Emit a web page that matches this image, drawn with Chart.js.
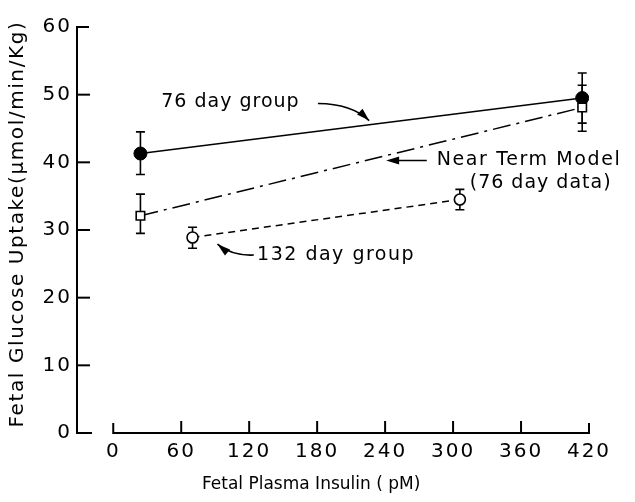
<!DOCTYPE html>
<html><head><meta charset="utf-8">
<script src="https://cdn.jsdelivr.net/npm/chart.js@4.4.0/dist/chart.umd.min.js"></script>
<style>html,body{margin:0;padding:0;background:#fff}#wrap{width:635px;height:502px;position:relative}</style>
</head><body><div id="wrap"><canvas id="c" width="635" height="502"></canvas></div>
<script>
const xTickValues = [0, 60, 120, 180, 240, 300, 360, 420];
const yTickValues = [0, 10, 20, 30, 40, 50, 60];
const insulin76 = [24, 414];
const uptake76 = [41.3, 49.5];
const uptake76Hi = [44.5, 53.2];
const uptake76Lo = [38.2, 45.8];
const insulinModel = [24, 414];
const uptakeModel = [32.1, 48.1];
const uptakeModelHi = [35.3, 51.4];
const uptakeModelLo = [29.5, 44.6];
const insulin132 = [70, 306];
const uptake132 = [28.9, 34.5];
const uptake132Hi = [30.4, 36.0];
const uptake132Lo = [27.3, 33.0];
const xTitle = 'Fetal Plasma Insulin ( pM)';
const yTitle = 'Fetal Glucose Uptake(\u03bcmol/min/Kg)';
const labels = ['76 day group', 'Near Term Model', '(76 day data)', '132 day group'];

const FONT = '"DejaVu Sans", sans-serif';
const pts = (xs, ys) => xs.map((x, i) => ({x: x, y: ys[i]}));

const errorSets = [
  {x: insulin76, hi: uptake76Hi, lo: uptake76Lo},
  {x: insulinModel, hi: uptakeModelHi, lo: uptakeModelLo},
  {x: insulin132, hi: uptake132Hi, lo: uptake132Lo}
];

function arrowHead(ctx, fromX, fromY, toX, toY, len, wid) {
  const a = Math.atan2(toY - fromY, toX - fromX);
  ctx.beginPath();
  ctx.moveTo(toX, toY);
  ctx.lineTo(toX - len * Math.cos(a) + wid / 2 * Math.sin(a), toY - len * Math.sin(a) - wid / 2 * Math.cos(a));
  ctx.lineTo(toX - len * Math.cos(a) - wid / 2 * Math.sin(a), toY - len * Math.sin(a) + wid / 2 * Math.cos(a));
  ctx.closePath();
  ctx.fill();
}

const spacing = {
  id: 'spacing',
  beforeDraw(chart) { try { chart.ctx.letterSpacing = '2px'; } catch (e) {} },
  afterDraw(chart) { try { chart.ctx.letterSpacing = '0px'; } catch (e) {} }
};

const deco = {
  id: 'deco',
  beforeDatasetsDraw(chart) {
    const ctx = chart.ctx, xs = chart.scales.x, ys = chart.scales.y;
    const ax = chart.chartArea.left;
    const y0 = ys.getPixelForValue(0), yTop = ys.getPixelForValue(60);
    ctx.save();
    ctx.strokeStyle = '#000';
    ctx.lineWidth = 2;
    ctx.lineCap = 'butt';
    ctx.beginPath();
    ctx.moveTo(ax + 12, yTop); ctx.lineTo(ax, yTop); ctx.lineTo(ax, y0); ctx.lineTo(ax + 15, y0);
    ctx.stroke();
    yTickValues.slice(1, -1).forEach(v => {
      const p = ys.getPixelForValue(v);
      ctx.beginPath(); ctx.moveTo(ax, p); ctx.lineTo(ax + 13, p); ctx.stroke();
    });
    const xa = xs.getPixelForValue(xTickValues[0]), xb = xs.getPixelForValue(xTickValues[xTickValues.length - 1]);
    ctx.beginPath();
    ctx.moveTo(xa, y0 - 10); ctx.lineTo(xa, y0); ctx.lineTo(xb, y0); ctx.lineTo(xb, y0 - 10);
    ctx.stroke();
    xTickValues.slice(1, -1).forEach(v => {
      const p = xs.getPixelForValue(v);
      ctx.beginPath(); ctx.moveTo(p, y0); ctx.lineTo(p, y0 - 12); ctx.stroke();
    });
    ctx.lineWidth = 1.6;
    errorSets.forEach(s => {
      s.x.forEach((xv, i) => {
        const px = xs.getPixelForValue(xv);
        const ph = ys.getPixelForValue(s.hi[i]), pl = ys.getPixelForValue(s.lo[i]);
        ctx.beginPath();
        ctx.moveTo(px, ph); ctx.lineTo(px, pl);
        ctx.moveTo(px - 4.5, ph); ctx.lineTo(px + 4.5, ph);
        ctx.moveTo(px - 4.5, pl); ctx.lineTo(px + 4.5, pl);
        ctx.stroke();
      });
    });
    ctx.restore();
  },
  afterDatasetsDraw(chart) {
    const ctx = chart.ctx, xs = chart.scales.x, ys = chart.scales.y;
    const X = v => xs.getPixelForValue(v), Y = v => ys.getPixelForValue(v);
    const ls = v => { try { ctx.letterSpacing = v + 'px'; } catch (e) {} };
    ctx.save();
    ctx.fillStyle = '#000';
    ctx.strokeStyle = '#000';
    ctx.lineWidth = 1.6;
    ctx.font = '19px ' + FONT;
    ctx.textBaseline = 'middle';
    ctx.textAlign = 'left';
    ls(1.0); ctx.fillText(labels[0], X(42.4), Y(48.85));
    ls(1.6); ctx.fillText(labels[1], X(285.6), Y(40.28));
    ls(1.0); ctx.fillText(labels[2], X(314.7), Y(37.0));
    ls(1.5); ctx.fillText(labels[3], X(127), Y(26.3));
    ls(0);
    let sx = X(180.7), sy = Y(48.7), cx = X(210.6), cy = Y(48.65), ex = X(225.9), ey = Y(46.17);
    ctx.beginPath(); ctx.moveTo(sx, sy); ctx.quadraticCurveTo(cx, cy, ex, ey); ctx.stroke();
    arrowHead(ctx, cx, cy, ex, ey, 13, 8);
    sx = X(276.8); sy = Y(40.28); ex = X(240.9); ey = sy;
    ctx.beginPath(); ctx.moveTo(sx, sy); ctx.lineTo(ex + 8, ey); ctx.stroke();
    arrowHead(ctx, sx, sy, ex, ey, 13, 8);
    sx = X(124.1); sy = Y(26.3); cx = X(104.7); cy = Y(26.15); ex = X(92); ey = Y(27.9);
    ctx.beginPath(); ctx.moveTo(sx, sy); ctx.quadraticCurveTo(cx, cy, ex, ey); ctx.stroke();
    arrowHead(ctx, cx, cy, ex, ey, 13, 8);
    ctx.font = '17px ' + FONT;
    ctx.textAlign = 'center';
    ls(0);
    ctx.fillText(xTitle, (X(0) + X(420)) / 2 - 40, chart.chartArea.bottom + 52);
    ctx.translate(18, (Y(0) + Y(60)) / 2 - 6);
    ctx.rotate(-Math.PI / 2);
    ctx.font = '20px ' + FONT;
    ls(1.6);
    ctx.fillText(yTitle, 0, 0);
    ctx.restore();
  }
};

new Chart(document.getElementById('c'), {
  type: 'scatter',
  data: {
    datasets: [
      {
        label: 'Near Term Model (76 day data)', data: pts(insulinModel, uptakeModel), showLine: true,
        borderColor: '#000', borderWidth: 1.5, borderDash: [18, 6, 3, 6],
        pointStyle: 'rect', pointRadius: 6, pointBackgroundColor: '#fff', pointBorderColor: '#000', pointBorderWidth: 1.6,
        order: 0
      },
      {
        label: '76 day group', data: pts(insulin76, uptake76), showLine: true,
        borderColor: '#000', borderWidth: 1.6,
        pointStyle: 'circle', pointRadius: 6.5, pointBackgroundColor: '#000', pointBorderColor: '#000', pointBorderWidth: 1,
        order: 1
      },
      {
        label: '132 day group', data: pts(insulin132, uptake132), showLine: true,
        borderColor: '#000', borderWidth: 1.5, borderDash: [7, 5],
        pointStyle: 'circle', pointRadius: 5.5, pointBackgroundColor: '#fff', pointBorderColor: '#000', pointBorderWidth: 1.6,
        order: 2
      }
    ]
  },
  options: {
    responsive: false,
    animation: false,
    layout: {padding: {left: 0, top: 27, right: 46, bottom: 0}},
    plugins: {legend: {display: false}, tooltip: {enabled: false}},
    scales: {
      x: {
        type: 'linear', min: -32, max: 420,
        afterBuildTicks: s => { s.ticks = xTickValues.map(v => ({value: v})); },
        afterFit: s => { s.height = 69; },
        grid: {display: false, drawTicks: false}, border: {display: false},
        ticks: {color: '#000', font: {family: FONT, size: 20}, padding: 7, maxRotation: 0, autoSkip: false}
      },
      y: {
        type: 'linear', min: 0, max: 60,
        afterBuildTicks: s => { s.ticks = yTickValues.map(v => ({value: v})); },
        afterFit: s => { s.width = 77; },
        grid: {display: false, drawTicks: false}, border: {display: false},
        ticks: {color: '#000', font: {family: FONT, size: 20}, padding: 5}
      }
    }
  },
  plugins: [spacing, deco]
});
</script></body></html>
